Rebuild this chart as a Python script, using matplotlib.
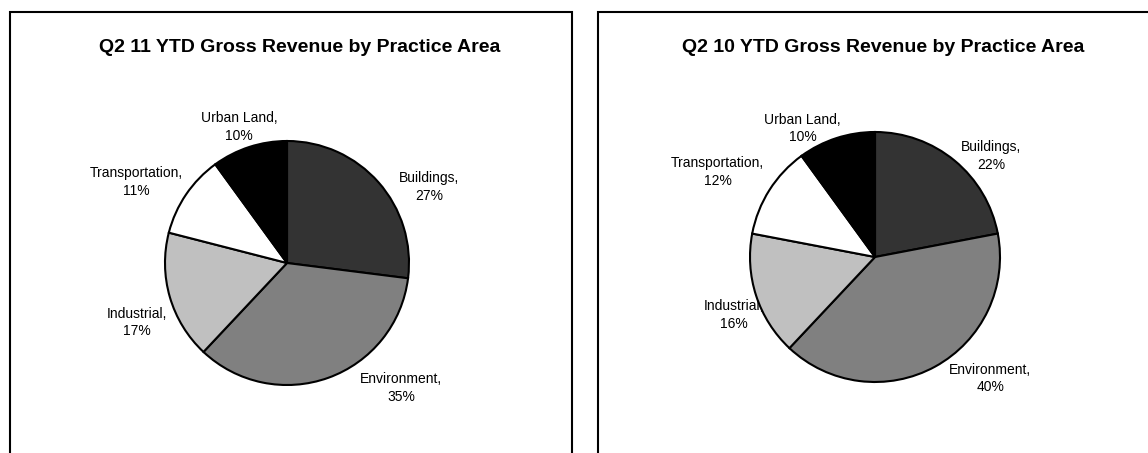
import numpy as np
import matplotlib
matplotlib.use('Agg')
import matplotlib.pyplot as plt
from matplotlib.patches import Rectangle

plt.rcParams['font.family'] = ['Liberation Sans', 'DejaVu Sans']

areas = ['Buildings', 'Environment', 'Industrial', 'Transportation', 'Urban Land']
share_q2_11 = [27, 35, 17, 11, 10]
share_q2_10 = [22, 40, 16, 12, 10]
title_q2_11 = 'Q2 11 YTD Gross Revenue by Practice Area'
title_q2_10 = 'Q2 10 YTD Gross Revenue by Practice Area'
slice_colors = ['#333333', '#808080', '#c0c0c0', '#ffffff', '#000000']

W, H = 1148, 453
fig = plt.figure(figsize=(W / 100, H / 100), dpi=100)

# panel frames (bottom runs off the picture, right one also off the right edge)
for x0, x1 in [(10, 572), (598, 1160)]:
    fig.patches.append(Rectangle((x0 / W, -0.1), (x1 - x0) / W, 1.1 - 12 / H,
                                 transform=fig.transFigure, fill=False,
                                 edgecolor='black', linewidth=1.5))


def pie_axes(cx, cy, r, k=1.7):
    # axes in pixel space with the pie of radius 1 centred at (cx, cy)
    half = r * k
    return fig.add_axes([(cx - half) / W, (H - cy - half) / H, 2 * half / W, 2 * half / H])


# label placement: (angle in degrees, distance in radii) of the label centre
label_pos_11 = [(28, 1.32), (-47.6, 1.39), (201.7, 1.32), (151.8, 1.40), (109.4, 1.18)]
label_pos_10 = [(41, 1.23), (-46.5, 1.34), (202.4, 1.22), (151.6, 1.43), (119.4, 1.18)]

panels = [
    (share_q2_11, title_q2_11, (287, 263, 122), 300, label_pos_11),
    (share_q2_10, title_q2_10, (875, 257, 125), 883, label_pos_10),
]

for shares, title, (cx, cy, r), tx, lpos in panels:
    ax = pie_axes(cx, cy, r)
    ax.pie(shares, colors=slice_colors, startangle=90, counterclock=False,
           wedgeprops=dict(edgecolor='black', linewidth=1.5))
    ax.set_xlim(-1.7, 1.7)
    ax.set_ylim(-1.7, 1.7)
    ax.set_aspect('equal')
    ax.axis('off')
    # labels sit under the wedges, like the original where a comma gets covered
    for name, val, (ang, dist) in zip(areas, shares, lpos):
        a = np.deg2rad(ang)
        ax.text(dist * np.cos(a), dist * np.sin(a), f'{name},\n{val}%',
                ha='center', va='center', fontsize=10, linespacing=1.35,
                zorder=0.5, clip_on=False)
    fig.text(tx / W, 1 - 47 / H, title, ha='center', va='center',
             fontsize=14, fontweight='bold')

fig.savefig('out.png', dpi=100)
